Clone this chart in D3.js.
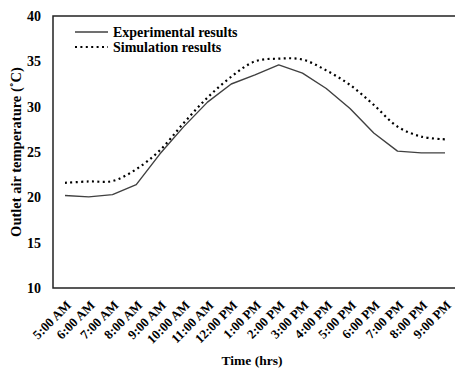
<!DOCTYPE html>
<html>
<head>
<meta charset="utf-8">
<style>
body { margin: 0; background: #fff; }
text { font-family: "Liberation Serif", "Times New Roman", serif; font-weight: bold; fill: #000; }
</style>
</head>
<body>
<svg width="455" height="369"></svg>
<script src="https://cdn.jsdelivr.net/npm/d3@7"></script>
<script>

var times = ["5:00 AM", "6:00 AM", "7:00 AM", "8:00 AM", "9:00 AM", "10:00 AM", "11:00 AM",
  "12:00 PM", "1:00 PM", "2:00 PM", "3:00 PM", "4:00 PM", "5:00 PM", "6:00 PM",
  "7:00 PM", "8:00 PM", "9:00 PM"];
var experimental = [20.2, 20.05, 20.3, 21.4, 24.8, 27.8, 30.5, 32.5, 33.5, 34.6, 33.7, 32.0, 29.8, 27.1, 25.1, 24.9, 24.9];
var simulation = [21.6, 21.75, 21.8, 23.1, 25.2, 28.2, 31.0, 33.3, 35.0, 35.3, 35.2, 34.0, 32.4, 30.2, 27.8, 26.7, 26.4];
var yTicks = [10, 15, 20, 25, 30, 35, 40];

var svg = d3.select("svg"),
    plotLeft = 53, plotTop = 16, plotBottom = 288, plotRight = 455;

var x = d3.scalePoint().domain(times).range([65, 445]);
var y = d3.scaleLinear().domain([10, 40]).range([plotBottom, plotTop]);

// frame: left, top and bottom lines only
svg.append("path")
    .attr("d", "M" + plotRight + "," + plotTop + "H" + plotLeft + "V" + plotBottom + "H" + plotRight)
    .attr("fill", "none")
    .attr("stroke", "#222")
    .attr("stroke-width", 1.5);

// y tick labels
svg.selectAll(".ytick")
  .data(yTicks)
  .enter().append("text")
    .attr("x", 41)
    .attr("y", function(d) { return y(d); })
    .attr("dy", "0.35em")
    .attr("text-anchor", "end")
    .style("font-size", "14px")
    .text(function(d) { return d; });

// x tick labels, rotated
svg.selectAll(".xtick")
  .data(times)
  .enter().append("text")
    .attr("transform", function(d) { return "translate(" + (x(d) + 7) + "," + (plotBottom + 18) + ") rotate(-45)"; })
    .attr("text-anchor", "end")
    .style("font-size", "13px")
    .text(function(d) { return d; });

var expLine = d3.line()
    .x(function(d, i) { return x(times[i]); })
    .y(function(d) { return y(d); });

var simLine = d3.line()
    .x(function(d, i) { return x(times[i]); })
    .y(function(d) { return y(d); })
    .curve(d3.curveCatmullRom);

svg.append("path")
    .attr("d", expLine(experimental))
    .attr("fill", "none")
    .attr("stroke", "#404040")
    .attr("stroke-width", 1.4)
    .attr("stroke-linejoin", "round");

svg.append("path")
    .attr("d", simLine(simulation))
    .attr("fill", "none")
    .attr("stroke", "#000")
    .attr("stroke-width", 2.2)
    .attr("stroke-dasharray", "2,3.4");

// legend
svg.append("line")
    .attr("x1", 75).attr("x2", 108).attr("y1", 32).attr("y2", 32)
    .attr("stroke", "#404040").attr("stroke-width", 1.4);
svg.append("line")
    .attr("x1", 75).attr("x2", 108).attr("y1", 47).attr("y2", 47)
    .attr("stroke", "#000").attr("stroke-width", 2.2).attr("stroke-dasharray", "2,3.4");
svg.append("text").attr("x", 113).attr("y", 32).attr("dy", "0.35em")
    .style("font-size", "14px").text("Experimental results");
svg.append("text").attr("x", 113).attr("y", 47).attr("dy", "0.35em")
    .style("font-size", "14px").text("Simulation results");

// axis titles
svg.append("text")
    .attr("transform", "translate(21," + 152 + ") rotate(-90)")
    .attr("text-anchor", "middle")
    .style("font-size", "14.5px")
    .text("Outlet air temperature (˚C)");

svg.append("text")
    .attr("x", 252).attr("y", 365)
    .attr("text-anchor", "middle")
    .style("font-size", "13.5px")
    .text("Time (hrs)");

</script>
</body>
</html>
